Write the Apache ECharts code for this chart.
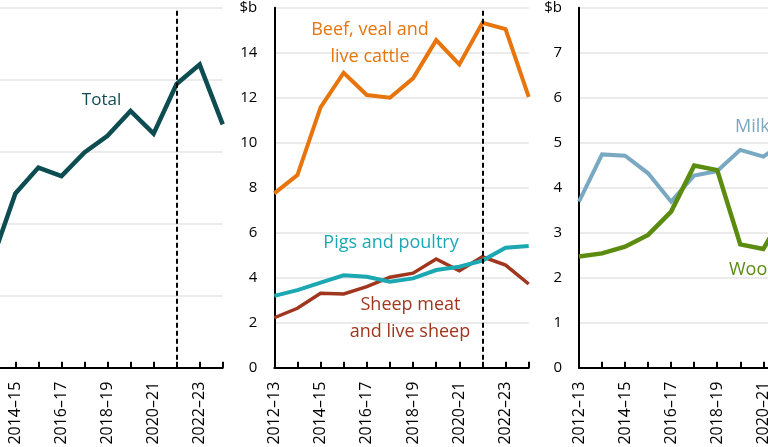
<!DOCTYPE html>
<html>
<head>
<meta charset="utf-8">
<script src="https://cdn.jsdelivr.net/npm/echarts@6/dist/echarts.min.js"></script>
<style>
html,body{margin:0;padding:0;background:#fff;}
#c{width:768px;height:447px;}
</style>
</head>
<body>
<div id="c"></div>
<script>
const categories = ['2012–13','2013–14','2014–15','2015–16','2016–17','2017–18','2018–19','2019–20','2020–21','2021–22','2022–23','2023–24'];
const forecastStart = '2021–22';
const total = [14.0, 15.0, 24.2, 27.8, 26.6, 29.9, 32.2, 35.65, 32.5, 39.4, 42.1, 33.8];
const beef = [7.75, 8.56, 11.57, 13.11, 12.12, 12.0, 12.86, 14.56, 13.48, 15.33, 15.05, 12.04];
const pigs = [3.19, 3.45, 3.78, 4.11, 4.04, 3.82, 3.97, 4.34, 4.49, 4.76, 5.33, 5.41];
const sheep = [2.22, 2.64, 3.31, 3.28, 3.6, 4.02, 4.2, 4.83, 4.31, 4.93, 4.56, 3.72];
const milk = [3.69, 4.74, 4.71, 4.32, 3.69, 4.27, 4.37, 4.84, 4.69, 5.05, 5.9, 5.3];
const wool = [2.47, 2.54, 2.69, 2.95, 3.47, 4.49, 4.39, 2.74, 2.64, 3.5, 3.2, 2.8];
const leftAxis = {min: 0, max: 50, interval: 10};
const midAxis = {min: 0, max: 16, interval: 2};
const rightAxis = {min: 0, max: 8, interval: 1};

const FONT = '"Open Sans", sans-serif';
const chart = echarts.init(document.getElementById('c'), null, {renderer: 'canvas'});

const grids = [
  {left: -30.7, top: 7.7, width: 253.4, height: 360},
  {left: 274.3, top: 7.7, width: 254.4, height: 360},
  {left: 579, top: 7.7, width: 253.4, height: 360}
].map(g => Object.assign(g, {containLabel: false, outerBoundsMode: 'none'}));

function xAxis(i) {
  return {
    type: 'category', gridIndex: i, data: categories, boundaryGap: false,
    axisLine: {lineStyle: {color: '#000', width: 2}},
    axisTick: {show: true, inside: true, length: 6, interval: 0, lineStyle: {color: '#000', width: 2}},
    axisLabel: {rotate: 90, interval: 1, margin: 14, fontSize: 16, color: '#000', fontFamily: FONT,
      hideOverlap: false},
    splitLine: {show: false}
  };
}
function yAxis(i, ax) {
  return {
    type: 'value', gridIndex: i, min: ax.min, max: ax.max, interval: ax.interval,
    axisLine: {show: true, lineStyle: {color: '#000', width: 2}},
    axisTick: {show: false},
    axisLabel: {margin: 17, fontSize: 15, color: '#000', fontFamily: FONT,
      formatter: v => (v === ax.max ? '$b' : String(v))},
    splitLine: {show: true, lineStyle: {color: '#e4e4e4', width: 1.5}}
  };
}
function line(name, data, color, xi, width, withMark) {
  const s = {
    name, type: 'line', data, xAxisIndex: xi, yAxisIndex: xi,
    symbol: 'none', smooth: false, silent: true,
    lineStyle: {color, width: width || 4, join: 'miter'},
    itemStyle: {color}, z: 3
  };
  if (withMark) {
    s.markLine = {
      silent: true, symbol: ['none', 'none'], label: {show: false},
      lineStyle: {type: [5, 3], color: '#000', width: 2},
      data: [{xAxis: forecastStart}], z: 5
    };
  }
  return s;
}
function label(text, x, y, color, size, align) {
  return {type: 'text', x, y, style: {text, fill: color, font: size + 'px ' + FONT,
    align: align || 'center', verticalAlign: 'middle'}, z: 10};
}

chart.setOption({
  animation: false,
  backgroundColor: '#fff',
  grid: grids,
  xAxis: [xAxis(0), xAxis(1), xAxis(2)],
  yAxis: [yAxis(0, leftAxis), yAxis(1, midAxis), yAxis(2, rightAxis)],
  series: [
    line('Total', total, '#0d4d52', 0, 4.5, true),
    line('Beef, veal and live cattle', beef, '#e8740c', 1, 4, true),
    line('Sheep meat and live sheep', sheep, '#a0361e', 1, 3.5, false),
    line('Pigs and poultry', pigs, '#1ba8b2', 1, 4, false),
    line('Milk', milk, '#79a8c2', 2, 4, false),
    line('Wool', wool, '#5b8c10', 2, 4.5, false)
  ],
  graphic: [
    label('Total', 101.5, 100, '#0d4d52', 17),
    label('Beef, veal and', 370, 30, '#e8740c', 18),
    label('live cattle', 370, 57, '#e8740c', 18),
    label('Pigs and poultry', 391, 243, '#1ba8b2', 18),
    label('Sheep meat', 410.5, 305, '#a0361e', 18),
    label('and live sheep', 410, 331.5, '#a0361e', 18),
    label('Milk', 735, 127, '#79a8c2', 18, 'left'),
    label('Wool', 729, 270, '#5b8c10', 18, 'left')
  ]
});
</script>
</body>
</html>
